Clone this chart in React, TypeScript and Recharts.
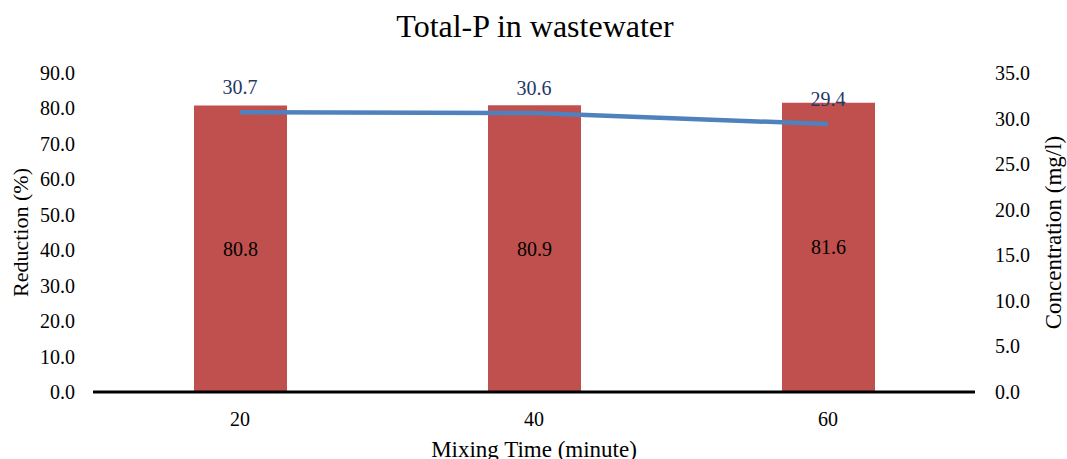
import React from 'react';
import { Bar, ComposedChart, LabelList, Label, Line, XAxis, YAxis } from 'recharts';

const mixingTimes = ['20', '40', '60'];
const reduction = [80.8, 80.9, 81.6];
const concentration = [30.7, 30.6, 29.4];
const reductionTicks = [0, 10, 20, 30, 40, 50, 60, 70, 80, 90];
const concentrationTicks = [0, 5, 10, 15, 20, 25, 30, 35];

const data = mixingTimes.map((t, i) => ({
  time: t,
  reduction: reduction[i],
  concentration: concentration[i],
}));

const font = 'Liberation Serif, serif';

// ticks drawn by hand so the serif font sticks
const makeTick = (anchor: 'start' | 'middle' | 'end', dy: number, fmt?: (v: any) => string) => (props: any) => {
  const { x, y, payload } = props;
  const v = fmt ? fmt(payload.value) : String(payload.value);
  return (
    <text x={x} y={y + dy} textAnchor={anchor} fontFamily={font} fontSize={20} fill="#000">
      {v}
    </text>
  );
};

const fix1 = (v: any) => Number(v).toFixed(1);

export default function App() {
  return (
    <div style={{ position: 'absolute', left: 0, top: 0, width: 1067, height: 459, background: '#fff', fontFamily: font }}>
      <div style={{ position: 'absolute', left: 0, width: 1070, top: 8, textAlign: 'center', fontSize: 32, color: '#000' }}>
        Total-P in wastewater
      </div>
      <ComposedChart
        width={1067}
        height={459}
        data={data}
        margin={{ top: 73, right: 0, left: 0, bottom: 0 }}
        barCategoryGap={0}
      >
        <XAxis
          dataKey="time"
          height={67}
          axisLine={{ stroke: '#000', strokeWidth: 3 }}
          tickLine={false}
          tickMargin={12}
          tick={makeTick('middle', 16)}
        >
          <Label
            content={({ viewBox }: any) => (
              <text x={viewBox.x + viewBox.width / 2} y={viewBox.y + 65} textAnchor="middle" fontFamily={font} fontSize={23} fill="#000">
                Mixing Time (minute)
              </text>
            )}
          />
        </XAxis>
        <YAxis
          yAxisId="left"
          width={93}
          domain={[0, 90]}
          ticks={reductionTicks}
          axisLine={false}
          tickLine={false}
          tickMargin={12}
          tick={makeTick('end', 7, fix1)}
        >
          <Label
            content={({ viewBox }: any) => (
              <text
                x={viewBox.x + 20}
                y={viewBox.y + viewBox.height / 2}
                transform={`rotate(-90, ${viewBox.x + 20}, ${viewBox.y + viewBox.height / 2})`}
                textAnchor="middle"
                dominantBaseline="central"
                fontFamily={font}
                fontSize={22}
                fill="#000"
              >
                Reduction (%)
              </text>
            )}
          />
        </YAxis>
        <YAxis
          yAxisId="right"
          orientation="right"
          width={92}
          domain={[0, 35]}
          ticks={concentrationTicks}
          axisLine={false}
          tickLine={false}
          tickMargin={14}
          tick={makeTick('start', 7, fix1)}
        >
          <Label
            content={({ viewBox }: any) => (
              <text
                x={viewBox.x + 78}
                y={viewBox.y + viewBox.height / 2}
                transform={`rotate(-90, ${viewBox.x + 78}, ${viewBox.y + viewBox.height / 2})`}
                textAnchor="middle"
                dominantBaseline="central"
                fontFamily={font}
                fontSize={23}
                fill="#000"
              >
                Concentration (mg/l)
              </text>
            )}
          />
        </YAxis>
        <Bar yAxisId="left" dataKey="reduction" fill="#C0504D" barSize={93} isAnimationActive={false}>
          <LabelList
            dataKey="reduction"
            content={(p: any) => (
              <text x={p.x + p.width / 2} y={p.y + p.height / 2 + 7} textAnchor="middle" fontFamily={font} fontSize={20} fill="#000">
                {fix1(p.value)}
              </text>
            )}
          />
        </Bar>
        <Line
          yAxisId="right"
          dataKey="concentration"
          stroke="#4F81BD"
          strokeWidth={4.5}
          dot={false}
          activeDot={false}
          type="linear"
          isAnimationActive={false}
        >
          <LabelList
            dataKey="concentration"
            content={(p: any) => (
              <text x={p.x} y={p.y - 18} textAnchor="middle" fontFamily={font} fontSize={20} fill="#1F3864">
                {fix1(p.value)}
              </text>
            )}
          />
        </Line>
      </ComposedChart>
    </div>
  );
}
